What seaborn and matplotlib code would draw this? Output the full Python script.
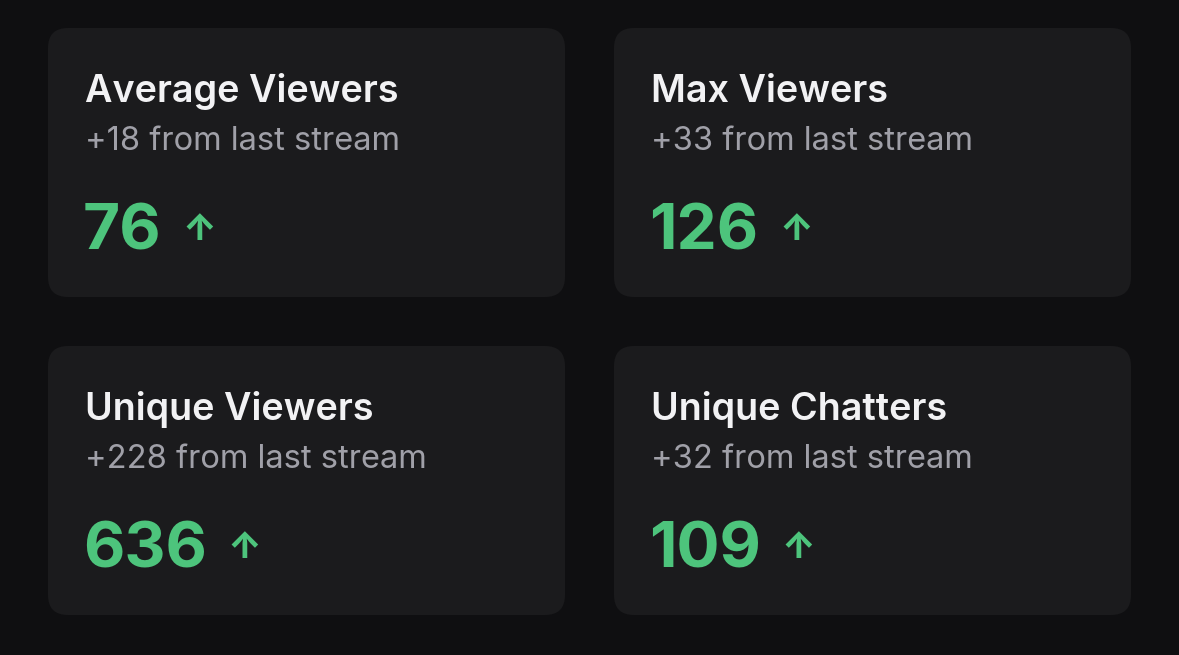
import matplotlib
matplotlib.use("Agg")
import matplotlib.pyplot as plt
from matplotlib.patches import FancyBboxPatch
import seaborn as sns

# Card data
titles = ["Average Viewers", "Max Viewers", "Unique Viewers", "Unique Chatters"]
deltas = [18, 33, 228, 32]
values = [76, 126, 636, 109]

BG = "#0f0f11"
CARD = "#1b1b1d"
GREEN = "#4dc47c"

sns.set_theme(style="dark")
plt.rcParams["font.family"] = ["Inter", "DejaVu Sans"]

fig = plt.figure(figsize=(11.79, 6.55), dpi=100, facecolor=BG)
ax = fig.add_axes([0, 0, 1, 1])
ax.set_facecolor(BG)
ax.set_xlim(0, 1179)
ax.set_ylim(655, 0)
ax.axis("off")

lefts = [48, 614]
tops = [28, 346]
w, h = 517, 269

for i, (t, d, v) in enumerate(zip(titles, deltas, values)):
    x0 = lefts[i % 2]
    y0 = tops[i // 2]
    ax.add_patch(FancyBboxPatch((x0, y0), w, h,
                                boxstyle="round,pad=0,rounding_size=20",
                                fc=CARD, ec="none"))
    ax.text(x0 + 37, y0 + 64, t, color="#f2f2f4", fontsize=27.2,
            fontweight="semibold", va="center", ha="left")
    ax.text(x0 + 37, y0 + 113, f"+{d} from last stream", color="#a0a0a8",
            fontsize=23.5, va="center", ha="left")
    num = ax.text(x0 + 35, y0 + 205, str(v), color=GREEN, fontsize=46,
                  fontweight="bold", va="center", ha="left")
    ax.annotate("↑", xy=(1, 0.5), xycoords=num, xytext=(15, 2),
                textcoords="offset points", color=GREEN, fontsize=26,
                fontweight="heavy", va="center", ha="left")

fig.savefig("out.png", dpi=100, facecolor=BG)
